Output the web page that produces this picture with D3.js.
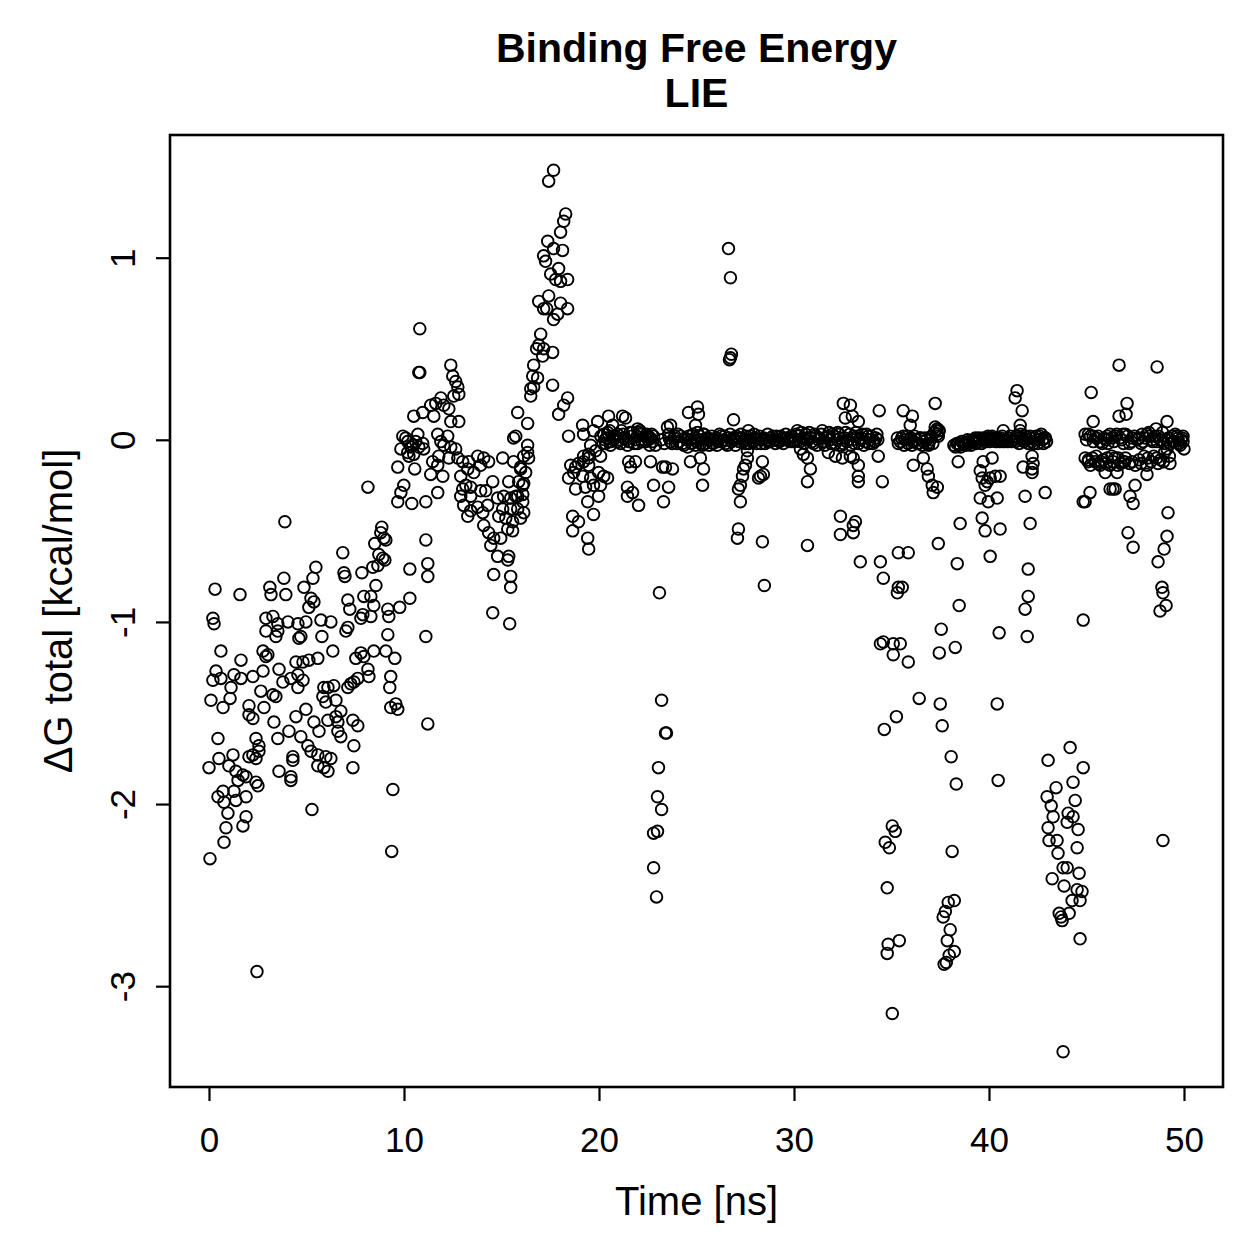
<!DOCTYPE html>
<html>
<head>
<meta charset="utf-8">
<script src="https://cdn.jsdelivr.net/npm/d3@7"></script>
<style>
  body { margin: 0; background: #fff; }
  svg { display: block; font-family: "Liberation Sans", Arial, Helvetica, sans-serif; }
</style>
</head>
<body>
<svg id="chart" width="1259" height="1259"></svg>
<script>
// [time (ns), dG total (kcal/mol)]

// 0 - 11.5 ns: slow rise from about -1.6
const rampPhase = [
  [10.50,0.13],[10.96,0.15],[11.37,0.19],[9.94,0.02],[10.19,-0.01],[10.35,-0.04],[10.71,0.03],[10.96,-0.02],[11.01,-0.05],
  [9.84,-0.05],[10.25,-0.09],[10.50,-0.08],[9.68,-0.15],[10.55,-0.16],[11.37,-0.19],[8.15,-0.26],[9.99,-0.25],[9.84,-0.29],
  [9.68,-0.34],[10.40,-0.35],[11.12,-0.34],[3.89,-0.45],[8.86,-0.48],[8.81,-0.51],[8.97,-0.54],[9.07,-0.55],[8.50,-0.57],
  [11.12,-0.55],[6.86,-0.62],[8.71,-0.63],[8.91,-0.65],[8.66,-0.69],[8.40,-0.70],[9.02,-0.66],[5.48,-0.70],[5.33,-0.76],
  [4.87,-0.81],[3.84,-0.76],[6.92,-0.73],[6.97,-0.75],[7.84,-0.73],[10.30,-0.71],[11.22,-0.68],[11.22,-0.75],[0.31,-0.82],
  [1.59,-0.85],[3.12,-0.81],[3.18,-0.85],[3.94,-0.85],[5.23,-0.87],[5.12,-0.92],[5.38,-0.89],[7.12,-0.88],[7.22,-0.93],
  [7.89,-0.96],[7.94,-0.86],[8.30,-0.86],[8.56,-0.80],[8.45,-0.91],[9.17,-0.93],[9.22,-0.97],[9.78,-0.92],[10.30,-0.87],
  [0.20,-0.98],[0.26,-1.01],[2.92,-0.98],[3.53,-1.01],[4.05,-1.00],[4.56,-1.01],[4.97,-1.00],[5.74,-0.99],[6.25,-1.00],
  [7.12,-1.03],[7.79,-0.98],[8.30,-0.97],[3.28,-0.97],[3.53,-1.05],[2.92,-1.05],[3.43,-1.08],[4.71,-1.08],[4.61,-1.09],
  [5.79,-1.08],[7.02,-1.05],[9.17,-1.07],[11.12,-1.08],[0.61,-1.16],[1.64,-1.21],[2.77,-1.16],[3.02,-1.18],[2.92,-1.19],
  [6.35,-1.16],[7.53,-1.20],[7.79,-1.17],[7.94,-1.19],[8.45,-1.16],[9.07,-1.16],[9.53,-1.20],[4.46,-1.22],[4.82,-1.22],
  [5.12,-1.21],[5.58,-1.20],[0.36,-1.27],[0.20,-1.32],[0.61,-1.31],[1.28,-1.29],[1.64,-1.31],[2.25,-1.30],[2.77,-1.27],
  [3.59,-1.26],[3.79,-1.33],[4.20,-1.31],[4.56,-1.29],[4.56,-1.36],[4.82,-1.32],[1.13,-1.36],[1.08,-1.42],[0.10,-1.43],
  [0.72,-1.47],[2.66,-1.38],[3.28,-1.40],[3.43,-1.41],[5.89,-1.36],[6.10,-1.36],[6.40,-1.35],[5.84,-1.41],[5.99,-1.44],
  [6.51,-1.43],[7.12,-1.36],[7.27,-1.34],[7.43,-1.33],[7.63,-1.31],[8.15,-1.26],[8.20,-1.30],[9.32,-1.30],[9.27,-1.36],
  [2.05,-1.46],[2.05,-1.51],[2.25,-1.53],[2.82,-1.47],[3.33,-1.55],[4.97,-1.48],[4.46,-1.52],[5.38,-1.55],[5.64,-1.60],
  [6.10,-1.54],[6.51,-1.52],[6.61,-1.55],[6.76,-1.49],[6.61,-1.60],[6.76,-1.63],[7.38,-1.54],[7.63,-1.57],[7.43,-1.68],
  [9.32,-1.47],[9.58,-1.45],[9.68,-1.48],[11.22,-1.56],[0.46,-1.64],[2.41,-1.64],[2.56,-1.68],[2.56,-1.71],[2.25,-1.73],
  [2.05,-1.74],[2.41,-1.75],[3.53,-1.64],[4.10,-1.60],[4.71,-1.63],[5.07,-1.68],[5.23,-1.71],[5.58,-1.73],[5.99,-1.74],
  [6.25,-1.75],[5.58,-1.79],[5.89,-1.80],[6.10,-1.82],[4.30,-1.74],[4.30,-1.76],[1.23,-1.73],[1.02,-1.79],[0.51,-1.75],
  [0.00,-1.80],[1.38,-1.82],[1.74,-1.84],[1.90,-1.85],[1.49,-1.87],[1.28,-1.93],[1.90,-1.96],[2.51,-1.90],[2.41,-1.88],
  [0.72,-1.93],[0.46,-1.96],[0.77,-1.99],[1.38,-1.98],[0.97,-2.05],[0.87,-2.13],[1.90,-2.07],[1.74,-2.12],[0.77,-2.21],
  [0.05,-2.30],[3.59,-1.82],[4.20,-1.85],[4.20,-1.87],[7.38,-1.80],[9.43,-1.92],[5.28,-2.03],[9.37,-2.26],[2.46,-2.92]
];

// 10.5 - 16.5 ns: plateau just below zero
const plateauPhase = [
  [10.81,0.61],[10.76,0.37],[10.81,0.37],[12.40,0.41],[12.50,0.35],[12.65,0.32],[12.76,0.29],[12.81,0.25],[12.55,0.24],
  [11.63,0.20],[11.89,0.23],[12.04,0.19],[12.30,0.17],[11.53,0.13],[12.81,0.10],[12.40,0.10],[10.09,0.01],[10.19,-0.07],
  [10.45,-0.03],[10.60,-0.01],[10.76,-0.04],[11.73,0.03],[12.24,0.02],[11.89,-0.01],[12.04,-0.03],[12.40,-0.04],[12.65,-0.05],
  [11.78,-0.09],[12.30,-0.10],[12.76,-0.10],[11.73,-0.14],[11.99,-0.20],[11.47,-0.12],[13.01,-0.12],[13.32,-0.12],[13.78,-0.09],
  [14.09,-0.10],[14.34,-0.12],[13.93,-0.14],[13.27,-0.16],[12.91,-0.20],[13.58,-0.18],[15.06,-0.10],[13.01,-0.27],[13.17,-0.25],
  [13.42,-0.26],[12.91,-0.31],[13.42,-0.31],[13.93,-0.28],[14.19,-0.28],[14.55,-0.23],[11.73,-0.29],[13.06,-0.36],[13.42,-0.39],
  [13.27,-0.42],[13.78,-0.37],[14.04,-0.40],[14.29,-0.36],[14.80,-0.32],[14.09,-0.47],[14.34,-0.51],[14.60,-0.54],[14.45,-0.58],
  [14.80,-0.64],[14.60,-0.74],[14.55,-0.95],[15.37,-0.23],[16.14,-0.24],[15.11,-0.31],[15.47,-0.32],[15.83,-0.31],[16.09,-0.30],
  [15.06,-0.38],[14.86,-0.42],[15.22,-0.43],[15.83,-0.38],[16.14,-0.40],[15.98,-0.43],[15.57,-0.50],[14.96,-0.54],[15.32,-0.66],
  [15.47,-0.81],[15.42,-1.01],[15.83,0.15],[16.34,0.09],[15.73,0.02],[15.62,0.01],[16.34,-0.03],[15.62,-0.12],[16.14,-0.09],
  [16.39,-0.10],[15.98,-0.15],[16.24,-0.18],[15.88,-0.23],[16.09,-0.25],[15.73,-0.31],[16.09,-0.34],[15.47,-0.38],[15.57,-0.45],
  [15.37,-0.64],[16.34,-0.07],[15.98,-0.16],[15.32,-0.49],[15.47,-0.75]
];

// 16.5 - 18.5 ns: spike up to about +1.5
const spikePhase = [
  [16.91,0.76],[17.32,0.72],[17.67,0.66],[18.03,0.75],[18.39,0.72],[17.01,0.58],[16.91,0.52],[16.80,0.50],[17.16,0.50],
  [17.11,0.46],[17.62,0.48],[16.65,0.41],[16.60,0.35],[16.85,0.34],[16.65,0.29],[16.50,0.24],[17.62,0.30],[18.39,0.23],
  [18.19,0.19],[17.93,0.14],[17.67,1.48],[17.42,1.42],[18.29,1.24],[18.19,1.20],[18.03,1.14],[17.37,1.09],[17.16,1.01],
  [17.26,0.98],[17.67,1.05],[18.13,1.04],[17.93,0.94],[17.52,0.91],[17.78,0.88],[18.39,0.88],[18.03,0.87],[17.42,0.79],
  [17.16,0.72],[17.88,0.69],[16.50,0.28]
];

// 18.4 - 24 ns: settling near zero, plus the drop at 23 ns
const settlePhase = [
  [18.44,0.02],[19.16,0.08],[19.21,0.03],[19.93,0.10],[19.72,0.05],[20.49,0.13],[20.70,0.08],[21.21,0.13],[21.36,0.12],
  [20.24,0.03],[20.75,0.02],[21.26,0.01],[21.72,0.04],[21.98,0.06],[22.13,0.03],[22.49,0.02],[22.64,0.01],[22.75,-0.01],
  [20.34,-0.02],[20.59,-0.03],[20.95,-0.01],[21.46,-0.03],[21.98,-0.02],[22.39,-0.01],[19.57,-0.03],[19.83,-0.06],[19.21,-0.09],
  [19.47,-0.10],[18.55,-0.14],[18.80,-0.15],[18.95,-0.13],[19.21,-0.12],[19.47,-0.14],[18.70,-0.18],[18.44,-0.21],[19.16,-0.20],
  [19.98,-0.18],[20.24,-0.20],[20.44,-0.21],[19.57,-0.21],[19.31,-0.26],[18.80,-0.27],[19.72,-0.25],[20.08,-0.25],[19.42,-0.34],
  [19.98,-0.31],[19.72,-0.41],[18.65,-0.42],[18.95,-0.45],[18.65,-0.50],[19.42,-0.54],[19.47,-0.60],[21.52,-0.12],[21.87,-0.12],
  [21.62,-0.15],[22.64,-0.12],[21.46,-0.26],[21.72,-0.29],[21.46,-0.31],[22.03,-0.36],[22.80,-0.25],[23.31,-0.34],[23.57,-0.26],
  [23.26,-0.15],[23.41,-0.15],[23.77,-0.16],[23.51,0.07],[23.67,0.08],[23.57,0.03],[23.67,-0.01],[19.47,-0.08],[20.08,-0.09],
  [23.10,-0.84],[23.21,-1.43],[23.41,-1.61],[23.46,-1.61],[23.05,-1.80],[23.00,-1.96],[23.21,-2.03],[23.00,-2.15],[22.80,-2.16],
  [22.80,-2.35],[22.95,-2.51]
];

// dense stretches of the trajectory sitting on zero
const bandA = [
  [20.10,0.02],[20.30,0.00],[20.45,0.04],[20.60,-0.01],[20.85,0.02],[21.00,0.00],[21.15,0.05],[21.30,0.01],[21.55,-0.01],
  [21.70,0.02],[21.85,0.00],[22.05,0.04],[22.20,-0.01],[22.35,0.02],[22.55,0.00],[22.70,0.03],[22.90,-0.03],[23.20,0.00],
  [23.35,-0.02],[23.60,0.01],[23.75,-0.02],[23.85,0.01],[23.90,0.02],[24.00,-0.02],
  [20.20,-0.02],[20.40,0.01],[20.55,0.05],[20.75,0.00],[20.95,0.03],[21.10,-0.02],[21.25,0.03],[21.40,0.00],[21.60,0.04],
  [21.80,-0.02],[21.95,0.02],[22.10,0.05],[22.30,0.00],[22.45,0.03],[22.60,-0.03],[22.80,0.02]
];
const bandB = [
  [24.10,-0.01],[24.20,0.02],[24.35,-0.03],[24.50,0.00],[24.60,0.02],[24.75,-0.02],[24.90,0.01],[25.00,-0.01],[25.15,0.02],
  [25.30,0.00],[25.45,-0.02],[25.60,0.01],[25.70,0.00],[25.85,-0.02],[26.00,0.01],[26.10,-0.01],[26.25,0.02],[26.40,0.00],
  [26.50,-0.02],[26.65,0.01],[26.80,-0.01],[26.95,0.00],[27.05,0.02],[27.20,-0.01],[27.35,0.01],[27.50,-0.02],[27.60,0.00],
  [27.75,0.02],[27.90,-0.01],[28.00,0.01],[28.15,0.00],[28.30,-0.02],[28.45,0.01],[28.60,0.00],[28.70,-0.01],[28.85,0.01],
  [29.00,0.00],[29.10,0.02],[29.25,-0.01],[29.40,0.01],[29.50,0.00],[29.65,0.01],[29.80,-0.01],[29.90,0.02],[30.05,0.00],
  [30.20,0.02],[30.30,-0.01],[30.45,0.01],[30.60,0.03],[30.70,0.00],[30.85,0.01],[31.00,-0.02],[31.10,0.02],[31.25,0.00],
  [31.40,0.03],[31.50,-0.01],[31.65,0.01],[31.80,0.04],[31.90,-0.02],[32.05,0.02],[32.20,0.00],[32.30,0.03],[32.45,-0.03],
  [32.60,0.01],[32.70,-0.01],[32.85,0.03],[33.00,0.00],[33.10,-0.02],[33.25,0.02],[33.40,0.00],[33.50,0.03],[33.65,-0.01],
  [33.80,0.02],[33.90,0.00],[34.05,-0.02],[34.20,0.01],[34.30,0.00],
  [24.05,0.03],[24.28,-0.02],[24.42,0.01],[24.55,-0.04],[24.68,0.00],[24.82,0.03],[24.95,-0.03],[25.08,0.00],[25.22,-0.02],
  [25.38,0.03],[25.52,0.01],[25.65,-0.03],[25.78,0.02],[25.92,0.00],[26.05,-0.03],[26.18,0.03],[26.32,-0.01],[26.45,0.02],
  [26.58,-0.03],[26.72,0.03],[26.88,0.01],[27.00,-0.03],[27.12,0.01],[27.28,0.03],[27.42,-0.01],[27.55,0.02],[27.68,-0.02],
  [27.82,0.00],[27.95,0.03],[28.08,-0.02],[28.22,0.02],[28.38,0.00],[28.52,-0.02],[28.65,0.03],[28.78,-0.01],[28.92,0.02],
  [29.05,-0.02],[29.18,0.00],[29.32,0.02],[29.45,-0.02],[29.58,0.03],[29.72,0.00],[29.85,0.02],[29.98,-0.01],[30.12,0.03],
  [30.25,0.00],[30.38,0.04],[30.52,-0.02],[30.65,0.01],[30.78,0.04],[30.92,-0.01],[31.05,0.03],[31.18,-0.03],[31.32,0.01],
  [31.45,0.05],[31.58,-0.03],[31.72,0.02],[31.85,0.00],[31.98,0.03],[32.12,-0.02],[32.25,0.04],[32.38,0.01],[32.52,-0.02],
  [32.65,0.04],[32.78,0.00],[32.92,-0.03],[33.05,0.02],[33.18,0.04],[33.32,-0.02],[33.45,0.01],[33.58,-0.03],[33.72,0.03],
  [33.85,-0.02],[33.98,0.02],[34.12,-0.01],[34.25,0.03]
];
const bandC = [
  [35.30,0.01],[35.45,-0.01],[35.60,0.02],[35.70,0.00],[35.85,-0.02],[36.00,0.01],[36.10,-0.01],[36.25,0.00],[36.40,-0.02],
  [36.50,0.01],[36.65,-0.01],[36.80,0.00],[36.90,-0.03],[37.05,0.02],[37.20,0.04],[37.35,0.03],[37.45,0.05],
  [35.35,-0.02],[35.52,0.01],[35.65,-0.03],[35.78,0.02],[35.92,0.00],[36.05,-0.03],[36.18,0.02],[36.32,-0.02],[36.45,0.01],
  [36.58,-0.03],[36.72,0.01],[36.85,-0.02],[37.00,0.00],[37.12,-0.02],[37.28,0.05],[37.40,0.02]
];
const bandD = [
  [38.20,-0.03],[38.35,-0.02],[38.50,-0.03],[38.60,-0.01],[38.75,-0.02],[38.90,0.00],[39.00,-0.02],[39.15,-0.01],[39.30,0.01],
  [39.40,-0.01],[39.55,0.00],[39.70,0.01],[39.80,-0.01],[39.95,0.02],[40.10,0.00],[40.20,0.01],[40.35,-0.01],[40.50,0.00],
  [40.60,0.01],[40.75,-0.01],[40.90,0.00],[41.00,0.01],[41.15,-0.01],[41.30,0.00],[41.40,0.02],[41.55,-0.02],[41.70,0.01],
  [41.80,-0.01],[41.95,0.00],[42.10,0.02],[42.20,-0.01],[42.35,0.01],[42.50,-0.02],[42.60,0.02],[42.75,0.00],[42.85,0.01],
  [42.95,-0.01],
  [38.28,-0.04],[38.42,-0.02],[38.55,-0.04],[38.68,-0.02],[38.82,-0.03],[38.95,-0.01],[39.08,-0.03],[39.22,0.00],[39.35,-0.02],
  [39.48,0.01],[39.62,-0.02],[39.75,0.00],[39.88,0.01],[40.02,-0.01],[40.15,0.02],[40.28,0.00],[40.42,0.01],[40.55,-0.01],
  [40.68,0.02],[40.82,0.00],[40.95,-0.01],[41.08,0.02],[41.22,0.00],[41.35,-0.01],[41.48,0.01],[41.62,0.03],[41.75,0.00],
  [41.88,0.02],[42.02,-0.02],[42.15,0.01],[42.28,-0.02],[42.42,0.02],[42.55,0.00],[42.68,0.03],[42.80,-0.02],[42.90,0.01]
];
const bandE = [
  [45.00,0.00],[45.20,0.02],[45.50,0.01],[45.80,-0.02],[46.00,0.00],[46.20,0.03],[46.40,-0.01],[46.70,0.01],[46.90,-0.02],
  [47.10,0.02],[47.30,-0.01],[47.60,0.00],[47.80,-0.02],[48.00,0.01],[48.20,0.04],[48.40,-0.01],[48.50,0.02],[48.80,0.00],
  [49.00,-0.02],[49.20,0.01],[49.40,0.02],[49.50,-0.01],[49.70,0.01],[49.85,0.00],[49.95,0.02],
  [45.10,0.03],[45.35,-0.01],[45.60,0.02],[45.90,0.01],[46.10,-0.02],[46.30,0.01],[46.55,0.03],[46.80,0.00],[47.00,0.03],
  [47.20,-0.02],[47.45,0.02],[47.70,0.01],[47.90,-0.01],[48.10,0.03],[48.35,0.00],[48.70,0.02],[48.90,0.04],[49.10,0.00],
  [49.30,-0.02],[49.55,0.03],[49.75,-0.02],[49.90,0.01],
  [45.10,-0.11],[45.30,-0.10],[45.60,-0.13],[45.85,-0.11],[46.20,-0.14],[46.45,-0.10],[46.75,-0.13],[47.00,-0.10],[47.50,-0.14],
  [47.70,-0.11],[47.95,-0.09],[48.30,-0.12],[48.45,-0.09],[48.80,-0.11],[49.00,-0.07],
  [45.20,-0.14],[45.50,-0.09],[45.75,-0.12],[46.00,-0.13],[46.30,-0.09],[46.60,-0.14],[46.95,-0.12],[47.20,-0.13],[47.80,-0.13],
  [48.15,-0.10],[48.60,-0.10],[48.95,-0.12],[49.25,-0.09],
  [44.93,0.03],[45.34,0.02],[45.70,-0.01],[46.06,0.02],[46.47,0.02],[46.87,0.03],[47.34,0.01],[47.85,0.03],[48.26,0.02],
  [48.62,-0.01],[49.13,-0.05],[49.64,0.02],[49.95,-0.01],[50.00,-0.05],[49.80,-0.03],[49.44,-0.01],
  [44.93,-0.10],[45.08,-0.12],[45.44,-0.12],[45.70,-0.14],[46.06,-0.10],[46.36,-0.12],[46.62,-0.10],[46.87,-0.12],[47.34,-0.12],
  [48.10,-0.14],[48.67,-0.13],[49.28,-0.13],[45.96,-0.18],[46.57,-0.18],[48.10,-0.19]
];

// 24 - 34.5 ns: scattered points around the zero band
const stablePhase = [
  [24.59,0.15],[25.05,0.18],[25.10,0.14],[24.95,0.08],[25.05,0.04],[25.36,0.03],[25.31,-0.03],[25.20,-0.10],[24.69,-0.12],
  [25.36,-0.16],[25.31,-0.25],[26.90,0.11],[27.66,0.05],[27.61,-0.06],[27.61,-0.10],[27.51,-0.14],[27.41,-0.16],[27.36,-0.20],
  [27.25,-0.25],[27.15,-0.27],[27.25,-0.34],[28.38,-0.12],[28.28,-0.20],[28.43,-0.19],[28.18,-0.21],[27.15,-0.49],[27.10,-0.54],
  [28.38,-0.56],[28.48,-0.80],[30.17,0.05],[30.33,-0.05],[30.48,-0.08],[30.69,-0.10],[30.69,-0.23],[30.69,-0.58],[30.84,-0.16],
  [26.64,1.05],[26.74,0.89],[26.69,0.44],[26.79,0.47],[26.74,0.45],
  [32.53,0.20],[32.89,0.19],[32.63,0.12],[32.99,0.13],[33.30,0.10],[34.37,0.16],[31.76,-0.07],[32.12,-0.09],[32.48,-0.10],
  [32.89,-0.09],[33.04,-0.10],[33.30,-0.14],[33.30,-0.20],[33.30,-0.23],[34.32,-0.09],[34.53,-0.23],[32.38,-0.42],[33.15,-0.45],
  [33.04,-0.47],[32.38,-0.52],[33.04,-0.51],[33.40,-0.67],[34.43,-0.67],[34.58,-0.76]
];

// 34.3 - 38.5 ns: two excursions down to about -3
const dropPhase = [
  [35.60,0.16],[36.07,0.13],[35.96,0.08],[37.24,0.20],[37.24,0.07],[37.35,0.06],[36.12,-0.14],[36.63,-0.10],[36.83,-0.16],
  [36.89,-0.20],[37.09,-0.25],[37.35,-0.26],[37.14,-0.29],[38.42,-0.12],[35.35,-0.62],[35.86,-0.62],[37.40,-0.57],[38.37,-0.68],
  [38.52,-0.46],[35.35,-0.81],[35.30,-0.84],[35.55,-0.81],[38.47,-0.91],[34.43,-1.12],[34.58,-1.11],[35.09,-1.12],[35.45,-1.12],
  [35.09,-1.18],[35.86,-1.22],[37.55,-1.04],[37.45,-1.17],[38.27,-1.14],[36.42,-1.42],[37.50,-1.45],[35.25,-1.52],[34.63,-1.59],
  [37.60,-1.57],[38.06,-1.74],[38.32,-1.89],[35.04,-2.12],[35.19,-2.15],[34.68,-2.21],[34.89,-2.24],[38.11,-2.26],[34.78,-2.46],
  [37.91,-2.54],[38.22,-2.53],[37.76,-2.59],[37.65,-2.62],[38.01,-2.69],[37.86,-2.75],[38.22,-2.81],[37.96,-2.83],[37.81,-2.87],
  [37.70,-2.88],[34.83,-2.77],[35.40,-2.75],[34.78,-2.82],[35.04,-3.15]
];

// 38.5 - 43 ns
const recoverPhase = [
  [39.70,-0.12],[40.16,-0.10],[39.55,-0.17],[39.65,-0.21],[39.91,-0.23],[40.06,-0.21],[40.32,-0.20],[39.80,-0.25],[39.55,-0.32],
  [39.96,-0.34],[40.42,-0.32],[39.65,-0.43],[39.80,-0.50],[40.57,-0.49],[40.06,-0.64],[40.52,-1.06],[40.42,-1.45],[40.47,-1.87],
  [41.44,0.27],[41.34,0.23],[41.70,0.16],[41.60,0.08],[41.60,0.05],[40.73,0.05],[41.75,-0.15],[42.21,-0.16],[42.21,-0.09],
  [42.21,-0.18],[42.26,-0.13],[41.85,-0.31],[42.88,-0.29],[42.11,-0.46],[42.01,-0.71],[42.01,-0.86],[41.85,-0.93],[41.96,-1.08],
  [40.57,-0.20]
];

// 43 - 50 ns: last dip around 44 ns and the tail
const tailPhase = [
  [46.67,0.41],[48.62,0.40],[45.24,0.26],[47.08,0.20],[46.67,0.13],[47.03,0.14],[45.34,0.10],[49.13,0.10],[48.57,0.06],
  [45.18,-0.29],[44.93,-0.34],[44.83,-0.34],[46.21,-0.27],[46.36,-0.27],[46.47,-0.27],[47.49,-0.25],[47.23,-0.31],[47.39,-0.35],
  [49.18,-0.40],[47.13,-0.51],[47.39,-0.59],[49.13,-0.53],[48.98,-0.60],[48.67,-0.67],[48.87,-0.81],[48.92,-0.84],[49.08,-0.91],
  [48.77,-0.94],[44.83,-0.99],[48.92,-2.20],
  [44.16,-1.69],[43.03,-1.76],[44.83,-1.80],[44.31,-1.88],[43.44,-1.91],[44.42,-1.98],[42.98,-1.96],[43.19,-2.01],[43.29,-2.07],
  [44.06,-2.05],[44.31,-2.07],[44.01,-2.10],[43.03,-2.13],[44.57,-2.14],[43.08,-2.20],[43.49,-2.20],[44.52,-2.24],[43.54,-2.27],
  [43.80,-2.35],[44.01,-2.35],[44.62,-2.38],[43.24,-2.41],[43.85,-2.45],[44.52,-2.47],[44.77,-2.48],[44.67,-2.53],[44.26,-2.53],
  [44.11,-2.60],[43.60,-2.60],[43.70,-2.62],[43.75,-2.64],[44.67,-2.74],[43.80,-3.36]
];

const xTicks = [0, 10, 20, 30, 40, 50];
const yTicks = [-3, -2, -1, 0, 1];
const titleLines = ["Binding Free Energy", "LIE"];
const xLabel = "Time [ns]";
const yLabel = "\u0394G total [kcal/mol]";

const points = [].concat(rampPhase, plateauPhase, spikePhase, settlePhase,
  bandA, bandB, bandC, bandD, bandE, stablePhase, dropPhase, recoverPhase, tailPhase);

const plot = { left: 170, right: 1223, top: 135, bottom: 1087 };

// R style axis ranges: data extent widened by 4% on each side
function padded(ext) {
  const p = (ext[1] - ext[0]) * 0.04;
  return [ext[0] - p, ext[1] + p];
}
const x = d3.scaleLinear()
  .domain(padded(d3.extent(points, d => d[0])))
  .range([plot.left, plot.right]);
const y = d3.scaleLinear()
  .domain(padded(d3.extent(points, d => d[1])))
  .range([plot.bottom, plot.top]);

const svg = d3.select('#chart');

svg.append('g').selectAll('circle')
  .data(points)
  .join('circle')
  .attr('cx', d => x(d[0]))
  .attr('cy', d => y(d[1]))
  .attr('r', 5.8)
  .attr('fill', 'none')
  .attr('stroke', '#000')
  .attr('stroke-width', 1.9);

svg.append('rect')
  .attr('x', plot.left)
  .attr('y', plot.top)
  .attr('width', plot.right - plot.left)
  .attr('height', plot.bottom - plot.top)
  .attr('fill', 'none')
  .attr('stroke', '#000')
  .attr('stroke-width', 2.6);

const xAxis = svg.append('g')
  .attr('transform', `translate(0,${plot.bottom})`)
  .call(d3.axisBottom(x).tickValues(xTicks).tickFormat(d => String(d)).tickSize(14).tickPadding(26));
const yAxis = svg.append('g')
  .attr('transform', `translate(${plot.left},0)`)
  .call(d3.axisLeft(y).tickValues(yTicks).tickFormat(d => String(d)).tickSize(14));

[xAxis, yAxis].forEach(g => {
  g.select('.domain').remove();
  g.selectAll('.tick line').attr('stroke', '#000').attr('stroke-width', 2.2);
  g.selectAll('.tick text')
    .attr('fill', '#000')
    .style('font-family', '"Liberation Sans", Arial, Helvetica, sans-serif')
    .style('font-size', '35px');
});

yAxis.selectAll('.tick text')
  .attr('x', 0)
  .attr('dy', 0)
  .attr('text-anchor', 'middle')
  .attr('transform', 'translate(-35,0) rotate(-90)');

const midX = (plot.left + plot.right) / 2;
svg.append('g').selectAll('text')
  .data(titleLines)
  .join('text')
  .attr('x', midX)
  .attr('y', (d, i) => 62 + i * 45)
  .attr('text-anchor', 'middle')
  .style('font-size', '41px')
  .style('font-weight', 'bold')
  .text(d => d);

svg.append('text')
  .attr('x', midX)
  .attr('y', 1215)
  .attr('text-anchor', 'middle')
  .style('font-size', '40px')
  .text(xLabel);

svg.append('text')
  .attr('transform', `translate(72,${(plot.top + plot.bottom) / 2}) rotate(-90)`)
  .attr('text-anchor', 'middle')
  .style('font-size', '40px')
  .text(yLabel);
</script>
</body>
</html>
